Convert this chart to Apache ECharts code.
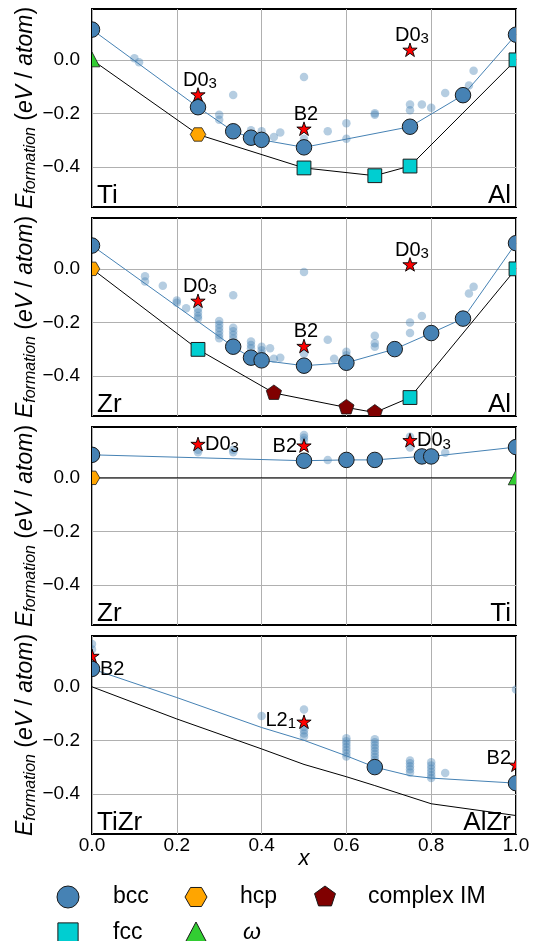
<!DOCTYPE html>
<html>
<head>
<meta charset="utf-8">
<script src="https://cdn.jsdelivr.net/npm/echarts@6/dist/echarts.min.js"></script>
<style>
  html, body { margin: 0; padding: 0; background: #fff; }
  #chart { width: 537px; height: 941px; }
</style>
</head>
<body>
<div id="chart"></div>
<script>
// ---- axis ticks ----
const xTicks = [0, 0.2, 0.4, 0.6, 0.8, 1.0];
const yTicks = [-0.4, -0.2, 0.0];

// ---- end members of each section ----
const leftEnds = ['Ti', 'Zr', 'Zr', 'TiZr'];
const rightEnds = ['Al', 'Al', 'Ti', 'AlZr'];

// ---- legend entries ----
const legendNames = ['bcc', 'hcp', 'complex IM', 'fcc', '\u03c9'];

// ---- Ti–Al ----
const tiAlHull = [[0, 0], [0.25, -0.279], [0.5, -0.404], [0.667, -0.433], [0.75, -0.397], [1, 0]];
const tiAlBcc = [[0, 0.113], [0.25, -0.177], [0.333, -0.267], [0.375, -0.291], [0.4, -0.299], [0.5, -0.327], [0.75, -0.25], [0.875, -0.132], [1, 0.094]];
const tiAlBccOther = [[0.1, 0.006], [0.111, -0.009], [0.3, -0.205], [0.3, -0.224], [0.333, -0.131], [0.375, -0.263], [0.4, -0.267], [0.429, -0.288], [0.444, -0.272], [0.5, -0.064], [0.5, -0.295], [0.556, -0.267], [0.6, -0.237], [0.6, -0.295], [0.667, -0.205], [0.667, -0.2], [0.75, -0.167], [0.75, -0.188], [0.778, -0.167], [0.8, -0.179], [0.833, -0.124], [0.889, -0.096], [0.9, -0.041]];
const tiAlFcc = [[0.5, -0.404], [0.667, -0.433], [0.75, -0.397], [1, 0]];
const tiAlHcp = [[0.25, -0.279]];
const tiAlComplex = [];
const tiAlOmega = [[0, 0]];
const tiAlStars = [[0.25, -0.132, 'D0_3'], [0.5, -0.26, 'B2'], [0.75, 0.035, 'D0_3']];

// ---- Zr–Al ----
const zrAlHull = [[0, 0], [0.25, -0.301], [0.429, -0.464], [0.6, -0.518], [0.667, -0.537], [0.75, -0.481], [1, 0]];
const zrAlBcc = [[0, 0.087], [0.333, -0.291], [0.375, -0.332], [0.4, -0.342], [0.5, -0.362], [0.6, -0.351], [0.714, -0.3], [0.8, -0.24], [0.875, -0.186], [1, 0.096]];
const zrAlBccOther = [[0.125, -0.028], [0.125, -0.047], [0.167, -0.063], [0.2, -0.118], [0.2, -0.127], [0.222, -0.147], [0.25, -0.15], [0.25, -0.163], [0.25, -0.176], [0.25, -0.186], [0.3, -0.195], [0.3, -0.208], [0.3, -0.221], [0.3, -0.234], [0.3, -0.247], [0.3, -0.259], [0.333, -0.099], [0.333, -0.22], [0.333, -0.233], [0.333, -0.246], [0.333, -0.26], [0.375, -0.272], [0.375, -0.285], [0.375, -0.297], [0.4, -0.291], [0.4, -0.304], [0.4, -0.317], [0.42, -0.297], [0.429, -0.336], [0.444, -0.332], [0.5, -0.012], [0.5, -0.317], [0.556, -0.265], [0.571, -0.336], [0.6, -0.31], [0.6, -0.323], [0.667, -0.25], [0.667, -0.278], [0.667, -0.291], [0.75, -0.201], [0.75, -0.24], [0.778, -0.176], [0.889, -0.092], [0.9, -0.067]];
const zrAlFcc = [[0.25, -0.301], [0.75, -0.481], [1, 0]];
const zrAlHcp = [[0, 0]];
const zrAlComplex = [[0.429, -0.464], [0.6, -0.518], [0.667, -0.537]];
const zrAlOmega = [];
const zrAlStars = [[0.25, -0.122, 'D0_3'], [0.5, -0.291, 'B2'], [0.75, 0.014, 'D0_3']];

// ---- Zr–Ti ----
const zrTiHull = [[0, 0], [1, 0]];
const zrTiBcc = [[0, 0.086], [0.5, 0.064], [0.6, 0.067], [0.667, 0.067], [0.778, 0.08], [0.8, 0.08], [1, 0.115]];
const zrTiBccOther = [[0.25, 0.096], [0.25, 0.105], [0.333, 0.096], [0.333, 0.105], [0.5, 0.16], [0.5, 0.15], [0.5, 0.14], [0.556, 0.067], [0.75, 0.154], [0.75, 0.113], [0.833, 0.094]];
const zrTiFcc = [];
const zrTiHcp = [[0, 0]];
const zrTiComplex = [];
const zrTiOmega = [[1, 0]];
const zrTiStars = [[0.25, 0.124, 'D0_3'], [0.5, 0.118, 'B2'], [0.75, 0.138, 'D0_3']];

// ---- TiZr–AlZr ----
const tiZrAlZrHull = [[0, 0], [0.2, -0.12], [0.4, -0.232], [0.5, -0.29], [0.6, -0.336], [0.667, -0.369], [0.8, -0.437], [1, -0.481]];
const tiZrAlZrBccLine = [[0, 0.067], [0.2, -0.04], [0.4, -0.152], [0.5, -0.2], [0.6, -0.258], [0.667, -0.3], [0.75, -0.332], [0.8, -0.341], [1, -0.36]];
const tiZrAlZrBcc = [[0, 0.067], [0.667, -0.3], [1, -0.36]];
const tiZrAlZrBccOther = [[0, 0.16], [0, 0.14], [0.4, -0.109], [0.5, -0.085], [0.5, -0.15], [0.5, -0.162], [0.5, -0.174], [0.5, -0.186], [0.6, -0.192], [0.6, -0.203], [0.6, -0.214], [0.6, -0.225], [0.6, -0.236], [0.6, -0.248], [0.6, -0.26], [0.667, -0.196], [0.667, -0.207], [0.667, -0.218], [0.667, -0.229], [0.667, -0.24], [0.667, -0.251], [0.667, -0.262], [0.667, -0.273], [0.667, -0.284], [0.75, -0.275], [0.75, -0.286], [0.75, -0.297], [0.75, -0.308], [0.75, -0.32], [0.8, -0.282], [0.8, -0.294], [0.8, -0.306], [0.8, -0.318], [0.8, -0.33], [0.8, -0.341], [0.833, -0.322], [1, -0.01]];
const tiZrAlZrStars = [[0, 0.113, 'B2'], [0.5, -0.133, 'L2_1'], [1, -0.294, 'B2']];

// ---- layout and styling ----
const FONT = "'Liberation Sans', Arial, Helvetica, sans-serif";
const GRID_LEFT = 92, GRID_RIGHT = 21, GRID_TOP = 9, GRID_H = 198, GRID_STEP = 209;
const Y_MIN = -0.55, Y_MAX = 0.19;

const COLORS = {
  bcc: '#4682b4', bccPale: 'rgba(70,130,180,0.4)', fcc: '#00ced1', hcp: '#ffa500',
  complex: '#800000', omega: '#32cd32', star: '#ff0000', edge: '#1a1a1a'
};

// unit outlines of the marker shapes (half-size 1, centred on 0)
function ring(n, startDeg, radii) {
  const pts = [];
  for (let i = 0; i < n; i++) {
    const a = (startDeg + i * 360 / n) * Math.PI / 180;
    const r = radii[i % radii.length];
    pts.push([r * Math.cos(a), r * Math.sin(a)]);
  }
  return pts;
}
const OUTLINES = {
  hexagon: ring(6, 0, [1]),
  pentagon: ring(5, -90, [1]),
  star: ring(10, -90, [1, 0.382]),
  square: [[-0.92, -0.92], [0.92, -0.92], [0.92, 0.92], [-0.92, 0.92]],
  triangle: [[0, -1], [1, 0.9], [-1, 0.9]]
};

// where each structure label sits relative to its star: [side, dx, dy]
const starLabelPlacement = [
  [['top', 2, -4], ['top', 2, -4], ['top', 2, -4]],
  [['top', 2, -4], ['top', 2, -4], ['top', 2, -4]],
  [['right', 7, 0], ['left', -7, 0], ['right', 7, 0]],
  [['right', 8, 13], ['left', -8, -2], ['left', -5, -7]]
];

// legend key layout: [shape, colour, key centre x, key centre y, text x]
const legendLayout = [
  ['circle', COLORS.bcc, 68, 897, 113],
  ['hexagon', COLORS.hcp, 196, 897, 240],
  ['pentagon', COLORS.complex, 325, 897, 368],
  ['square', COLORS.fcc, 68, 933, 113],
  ['triangle', COLORS.omega, 196, 933, 243]
];

const panels = [
  { hull: tiAlHull, bccLine: tiAlBcc, bcc: tiAlBcc, other: tiAlBccOther, fcc: tiAlFcc, hcp: tiAlHcp, complex: tiAlComplex, omega: tiAlOmega, stars: tiAlStars },
  { hull: zrAlHull, bccLine: zrAlBcc, bcc: zrAlBcc, other: zrAlBccOther, fcc: zrAlFcc, hcp: zrAlHcp, complex: zrAlComplex, omega: zrAlOmega, stars: zrAlStars },
  { hull: zrTiHull, bccLine: zrTiBcc, bcc: zrTiBcc, other: zrTiBccOther, fcc: zrTiFcc, hcp: zrTiHcp, complex: zrTiComplex, omega: zrTiOmega, stars: zrTiStars },
  { hull: tiZrAlZrHull, bccLine: tiZrAlZrBccLine, bcc: tiZrAlZrBcc, other: tiZrAlZrBccOther, fcc: [], hcp: [], complex: [], omega: [], stars: tiZrAlZrStars }
];

function fmtTick(v) {
  const s = Math.abs(v).toFixed(1);
  return v < -1e-9 ? '\u2212' + s : s;
}

// a marker outline of full size s centred at (cx, cy)
function shapeElement(shape, cx, cy, s, style) {
  if (shape === 'circle') {
    return { type: 'circle', shape: { cx: cx, cy: cy, r: s / 2 }, style: style };
  }
  return {
    type: 'polygon',
    shape: { points: OUTLINES[shape].map(p => [cx + p[0] * s / 2, cy + p[1] * s / 2]) },
    style: style
  };
}

// marker drawn through the grid's coordinate system and clipped at the frame
function markerSeries(k, name, pts, spec) {
  return {
    type: 'custom', name: name, xAxisIndex: k, yAxisIndex: k, clip: true, z: spec.z,
    encode: { x: 0, y: 1 },
    itemStyle: { color: spec.fill },
    data: pts.map(p => [p[0], p[1]]),
    renderItem: function (params, api) {
      const c = api.coord([api.value(0), api.value(1)]);
      return shapeElement(spec.shape, c[0], c[1], spec.size,
        { fill: spec.fill, stroke: spec.stroke || null, lineWidth: spec.lineWidth || 0 });
    }
  };
}

function starSeries(k, stars, placement) {
  return {
    type: 'custom', name: 'structure', xAxisIndex: k, yAxisIndex: k, clip: true, z: 6,
    encode: { x: 0, y: 1 },
    data: stars.map(p => [p[0], p[1]]),
    renderItem: function (params, api) {
      const c = api.coord([api.value(0), api.value(1)]);
      const parts = stars[params.dataIndex][2].split('_');
      const pl = placement[params.dataIndex];
      const text = '{m|' + parts[0] + '}' + (parts[1] ? '{s|' + parts[1] + '}' : '');
      let align = 'center', vAlign = 'bottom';
      if (pl[0] === 'right') { align = 'left'; vAlign = 'middle'; }
      if (pl[0] === 'left') { align = 'right'; vAlign = 'middle'; }
      return {
        type: 'group',
        children: [
          shapeElement('star', c[0], c[1], 15, { fill: COLORS.star, stroke: '#000', lineWidth: 0.9 }),
          {
            type: 'text', x: c[0] + pl[1], y: c[1] + pl[2],
            style: {
              text: text, fill: '#000', font: '20px ' + FONT,
              textAlign: align, textVerticalAlign: vAlign,
              rich: {
                m: { fontSize: 20, fontFamily: FONT, lineHeight: 22 },
                s: { fontSize: 15, fontFamily: FONT, lineHeight: 14, verticalAlign: 'bottom' }
              }
            }
          }
        ]
      };
    }
  };
}

const grids = [], xAxes = [], yAxes = [], series = [], graphics = [];

panels.forEach((P, k) => {
  const top = GRID_TOP + k * GRID_STEP;
  const last = k === panels.length - 1;
  grids.push({
    left: GRID_LEFT, right: GRID_RIGHT, top: top, height: GRID_H,
    show: true, borderColor: '#000', borderWidth: 2, backgroundColor: 'transparent'
  });
  xAxes.push({
    type: 'value', gridIndex: k, min: xTicks[0], max: xTicks[xTicks.length - 1], interval: 0.2,
    axisLine: { show: false }, axisTick: { show: false },
    axisLabel: { show: last, fontSize: 19, fontFamily: FONT, color: '#000', margin: 2, formatter: v => v.toFixed(1) },
    splitLine: { show: true, lineStyle: { color: '#b0b0b0', width: 1 } },
    name: last ? 'x' : '', nameLocation: 'middle', nameGap: 14, nameMoveOverlap: false,
    nameTextStyle: { fontSize: 22, fontStyle: 'italic', fontFamily: FONT, color: '#000' }
  });
  yAxes.push({
    type: 'value', gridIndex: k, min: Y_MIN, max: Y_MAX,
    axisLine: { show: false },
    axisTick: { show: false, customValues: yTicks },
    axisLabel: { customValues: yTicks, fontSize: 19, fontFamily: FONT, color: '#000', margin: 12, formatter: fmtTick },
    splitLine: { show: true, lineStyle: { color: '#b0b0b0', width: 1 } },
    name: '{e|E}{s|formation}{n| (}{i|eV}{n| / }{i|atom}{n|)}',
    nameLocation: 'middle', nameGap: 53, nameRotate: 90, nameMoveOverlap: false,
    nameTextStyle: {
      color: '#000',
      rich: {
        e: { fontSize: 23, fontStyle: 'italic', fontFamily: FONT, lineHeight: 26 },
        s: { fontSize: 16, fontStyle: 'italic', fontFamily: FONT, lineHeight: 16, verticalAlign: 'bottom' },
        n: { fontSize: 23, fontFamily: FONT, lineHeight: 26 },
        i: { fontSize: 23, fontStyle: 'italic', fontFamily: FONT, lineHeight: 26 }
      }
    }
  });

  series.push({
    type: 'line', name: 'hull', xAxisIndex: k, yAxisIndex: k, data: P.hull, symbol: 'none', z: 2,
    lineStyle: { color: '#000', width: 1 }, silent: true
  });
  series.push({
    type: 'line', name: 'bcc trend', xAxisIndex: k, yAxisIndex: k, data: P.bccLine, symbol: 'none', z: 2,
    lineStyle: { color: COLORS.bcc, width: 1 }, silent: true
  });
  series.push(markerSeries(k, 'bcc', P.other, { shape: 'circle', size: 8.5, fill: COLORS.bccPale, z: 3 }));
  series.push(markerSeries(k, 'bcc', P.bcc, { shape: 'circle', size: 15.5, fill: COLORS.bcc, stroke: COLORS.edge, lineWidth: 1, z: 4 }));
  series.push(markerSeries(k, 'fcc', P.fcc, { shape: 'square', size: 15, fill: COLORS.fcc, stroke: COLORS.edge, lineWidth: 1, z: 5 }));
  series.push(markerSeries(k, 'hcp', P.hcp, { shape: 'hexagon', size: 15.5, fill: COLORS.hcp, stroke: COLORS.edge, lineWidth: 0.8, z: 5 }));
  series.push(markerSeries(k, 'complex IM', P.complex, { shape: 'pentagon', size: 16, fill: COLORS.complex, stroke: COLORS.edge, lineWidth: 0.8, z: 5 }));
  series.push(markerSeries(k, '\u03c9', P.omega, { shape: 'triangle', size: 15.5, fill: COLORS.omega, stroke: COLORS.edge, lineWidth: 0.8, z: 5 }));
  series.push(starSeries(k, P.stars, starLabelPlacement[k]));

  graphics.push({
    type: 'text', x: GRID_LEFT + 5, y: top + GRID_H - 24, z: 10,
    style: { text: leftEnds[k], font: '26px ' + FONT, fill: '#000', textAlign: 'left', textVerticalAlign: 'top' }
  });
  graphics.push({
    type: 'text', x: GRID_LEFT + (537 - GRID_LEFT - GRID_RIGHT) - 5, y: top + GRID_H - 24, z: 10,
    style: { text: rightEnds[k], font: '26px ' + FONT, fill: '#000', textAlign: 'right', textVerticalAlign: 'top' }
  });
});

// legend keys and names
legendLayout.forEach((L, i) => {
  const key = shapeElement(L[0], L[2], L[3], 22, { fill: L[1], stroke: COLORS.edge, lineWidth: 1 });
  key.z = 10;
  graphics.push(key);
  graphics.push({
    type: 'text', x: L[4], y: L[3], z: 10,
    style: {
      text: legendNames[i], font: (i === 4 ? 'italic ' : '') + '23px ' + FONT, fill: '#000',
      textVerticalAlign: 'middle', textAlign: 'left'
    }
  });
});

const chart = echarts.init(document.getElementById('chart'), null, { renderer: 'canvas' });
chart.setOption({
  animation: false,
  backgroundColor: '#fff',
  textStyle: { fontFamily: FONT },
  grid: grids,
  xAxis: xAxes,
  yAxis: yAxes,
  series: series,
  graphic: graphics
});
</script>
</body>
</html>
